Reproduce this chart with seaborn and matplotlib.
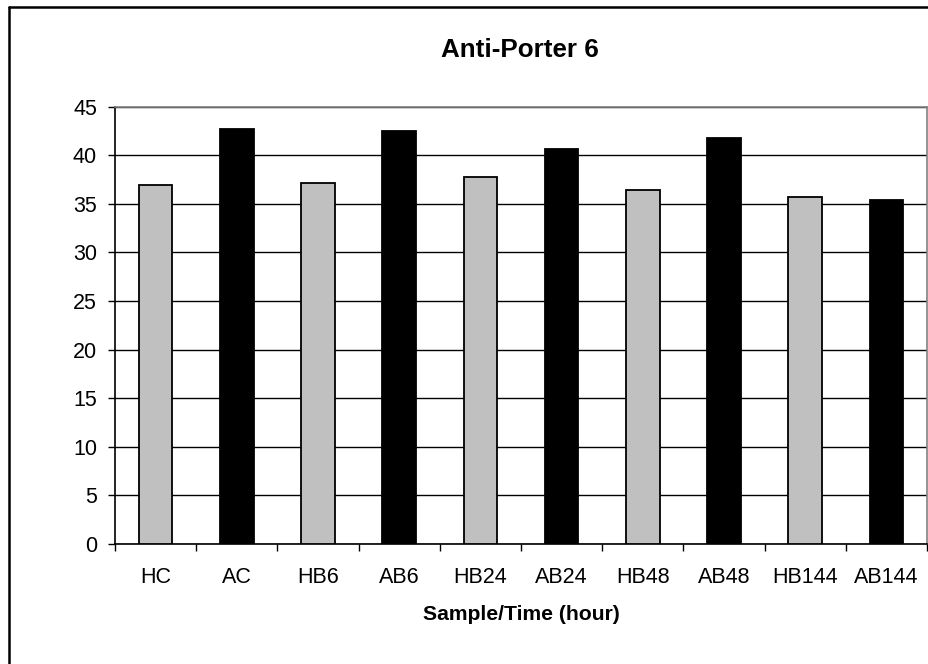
import matplotlib
matplotlib.use("Agg")
import matplotlib.pyplot as plt
from matplotlib.lines import Line2D
from matplotlib.ticker import FixedLocator, NullFormatter
import seaborn as sns
import pandas as pd

# Expression values per sample/time point
samples = ["HC", "AC", "HB6", "AB6", "HB24", "AB24", "HB48", "AB48", "HB144", "AB144"]
values = [36.9, 42.7, 37.1, 42.5, 37.8, 40.6, 36.4, 41.8, 35.7, 35.4]
groups = ["H", "A", "H", "A", "H", "A", "H", "A", "H", "A"]
yticks = [0, 5, 10, 15, 20, 25, 30, 35, 40, 45]

df = pd.DataFrame({"sample": samples, "value": values, "group": groups})

sns.set_style("white")
plt.rcParams["font.family"] = ["Liberation Sans", "DejaVu Sans"]
plt.rcParams["text.color"] = "black"
plt.rcParams["axes.labelcolor"] = "black"
plt.rcParams["xtick.color"] = "black"
plt.rcParams["ytick.color"] = "black"

W, H = 929, 664
fig = plt.figure(figsize=(W / 100, H / 100), dpi=100)
ax = fig.add_axes([115 / W, 1 - 544 / H, (927 - 115) / W, (544 - 106.7) / H])

sns.barplot(
    data=df, x="sample", y="value", hue="group", order=samples,
    palette={"H": "#C0C0C0", "A": "#000000"}, dodge=False, width=0.415,
    edgecolor="black", linewidth=1.3, legend=False, ax=ax, zorder=3,
)

ax.set_ylim(0, 45)
ax.set_xlim(-0.5, len(samples) - 0.5)
ax.set_yticks(yticks)
ax.yaxis.grid(True, color="black", linewidth=1.0, zorder=0)
ax.set_axisbelow(True)

# Spines: black axes lines, gray plot-area border
ax.spines["left"].set_color("black")
ax.spines["bottom"].set_color("black")
ax.spines["top"].set_color("#808080")
ax.spines["right"].set_color("#808080")
for s in ax.spines.values():
    s.set_linewidth(1.2)
    s.set_visible(True)

# Category separators as minor ticks, labels on unmarked major ticks
ax.xaxis.set_minor_locator(FixedLocator([i - 0.5 for i in range(len(samples) + 1)]))
ax.xaxis.set_minor_formatter(NullFormatter())
ax.tick_params(axis="x", which="minor", direction="out", length=5, width=1, color="black", bottom=True)
ax.tick_params(axis="x", which="major", length=0, pad=16.5, labelsize=15.5)
ax.tick_params(axis="y", which="major", direction="out", length=5, width=1, color="black",
               left=True, pad=8, labelsize=15.5)

ax.set_xlabel("Sample/Time (hour)", fontsize=15.2, fontweight="bold", labelpad=12.5)
ax.set_ylabel("")
fig.text(520 / W, 1 - 50 / H, "Anti-Porter 6", ha="center", va="center",
         fontsize=18.7, fontweight="bold")

# Outer chart frame (top and left edges)
fig.add_artist(Line2D([9 / W, 1.0], [1 - 7 / H, 1 - 7 / H], transform=fig.transFigure,
                      color="black", linewidth=1.8))
fig.add_artist(Line2D([9 / W, 9 / W], [0.0, 1 - 7 / H], transform=fig.transFigure,
                      color="black", linewidth=1.8))

fig.savefig("out.png", dpi=100)
